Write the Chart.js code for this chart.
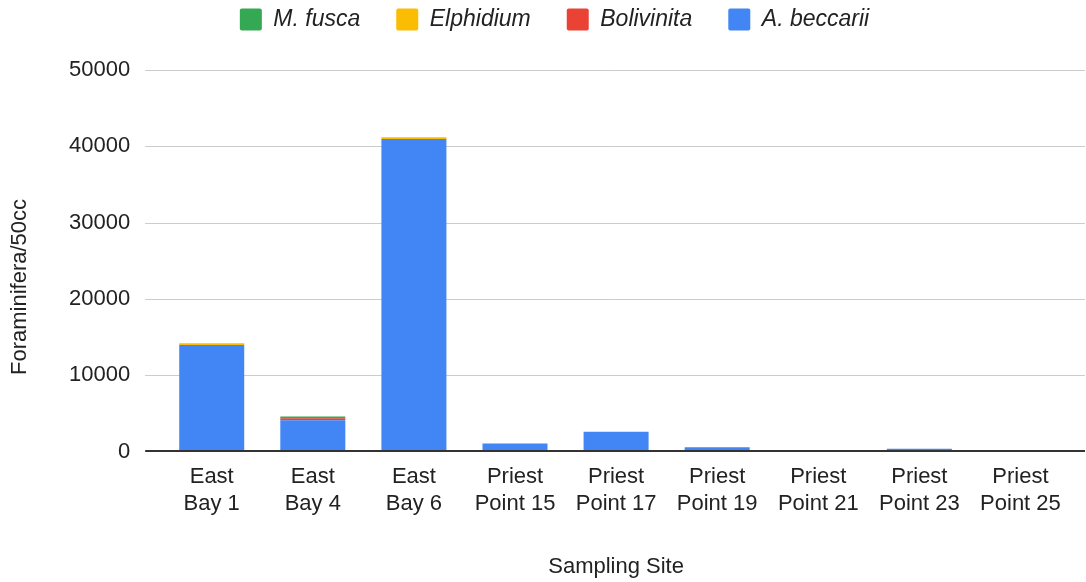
<!DOCTYPE html>
<html>
<head>
<meta charset="utf-8">
<script src="https://cdn.jsdelivr.net/npm/chart.js@4/dist/chart.umd.min.js"></script>
<style>
  html, body { margin: 0; padding: 0; background: #fff; }
  #wrap { width: 1086px; height: 582px; }
</style>
</head>
<body>
<div id="wrap"><canvas id="foramChart"></canvas></div>
<script>
// Sampling sites (two-line tick labels)
const sites = [
    ['East', 'Bay 1'], ['East', 'Bay 4'], ['East', 'Bay 6'],
    ['Priest', 'Point 15'], ['Priest', 'Point 17'], ['Priest', 'Point 19'],
    ['Priest', 'Point 21'], ['Priest', 'Point 23'], ['Priest', 'Point 25']
];

// Counts per 50cc, stacked bottom to top
const aBeccarii  = [13950, 4100, 40950, 1050, 2580, 560, 0, 350, 0];
const bolivinita = [0, 250, 0, 0, 0, 0, 0, 0, 0];
const elphidium  = [250, 0, 250, 0, 0, 0, 0, 0, 0];
const mFusca     = [0, 250, 0, 0, 0, 0, 0, 0, 0];

const yTicks = [0, 10000, 20000, 30000, 40000, 50000];
const yTitle = 'Foraminifera/50cc';

const font = '"Liberation Sans", Arial, sans-serif';
const textColor = '#222';

// gridlines + baseline run a bit past the bar area on both sides
const wideGrid = {
    id: 'wideGrid',
    beforeDatasetsDraw(chart) {
        const { ctx, chartArea, scales } = chart;
        const x0 = chartArea.left - 16;
        const x1 = chartArea.right + 14;
        ctx.save();
        ctx.lineWidth = 1;
        ctx.strokeStyle = '#cccccc';
        yTicks.forEach((v) => {
            if (v === 0) return;
            const y = Math.round(scales.y.getPixelForValue(v)) + 0.5;
            ctx.beginPath();
            ctx.moveTo(x0, y);
            ctx.lineTo(x1, y);
            ctx.stroke();
        });
        ctx.restore();
    },
    afterDatasetsDraw(chart) {
        const { ctx, chartArea, scales } = chart;
        const y = Math.round(scales.y.getPixelForValue(0));
        ctx.save();
        ctx.lineWidth = 2;
        ctx.strokeStyle = '#333';
        ctx.beginPath();
        ctx.moveTo(chartArea.left - 16, y);
        ctx.lineTo(chartArea.right + 14, y);
        ctx.stroke();
        ctx.restore();
    }
};

// y title centred on the whole canvas height, not just the plot area
const sideTitle = {
    id: 'sideTitle',
    afterDraw(chart) {
        const { ctx, height } = chart;
        ctx.save();
        ctx.translate(20, height / 2 - 4);
        ctx.rotate(-Math.PI / 2);
        ctx.font = '22px ' + font;
        ctx.fillStyle = textColor;
        ctx.textAlign = 'center';
        ctx.textBaseline = 'middle';
        ctx.fillText(yTitle, 0, 0);
        ctx.restore();
    }
};

// legend keeps its wide item spacing but reserves a fixed height
const legendHeight = {
    id: 'legendHeight',
    beforeInit(chart) {
        const fit = chart.legend.fit;
        chart.legend.fit = function () {
            fit.call(this);
            this.height = 98;
        };
    }
};

document.addEventListener('DOMContentLoaded', function () {
    const ctx = document.getElementById('foramChart');

    new Chart(ctx, {
        type: 'bar',
        data: {
            labels: sites,
            datasets: [
                { label: 'A. beccarii', data: aBeccarii, backgroundColor: '#4285f4' },
                { label: 'Bolivinita', data: bolivinita, backgroundColor: '#ea4335' },
                { label: 'Elphidium', data: elphidium, backgroundColor: '#fbbc04' },
                { label: 'M. fusca', data: mFusca, backgroundColor: '#34a853' }
            ]
        },
        options: {
            responsive: true,
            maintainAspectRatio: false,
            animation: false,
            layout: { padding: { left: 38, right: 15, top: -28, bottom: 2 } },
            datasets: {
                bar: { categoryPercentage: 1, barPercentage: 0.643 }
            },
            plugins: {
                legend: {
                    reverse: true,
                    labels: {
                        boxWidth: 22,
                        boxHeight: 22,
                        useBorderRadius: true,
                        borderRadius: 2,
                        padding: 36,
                        color: textColor,
                        font: { family: font, size: 23, style: 'italic' }
                    }
                },
                tooltip: { enabled: false }
            },
            scales: {
                x: {
                    stacked: true,
                    grid: { display: false, drawTicks: false },
                    border: { display: false },
                    ticks: {
                        color: textColor,
                        padding: 12,
                        maxRotation: 0,
                        autoSkip: false,
                        font: { family: font, size: 22, lineHeight: 1.23 }
                    },
                    title: {
                        display: true,
                        text: 'Sampling Site',
                        color: textColor,
                        padding: { top: 24, bottom: 0 },
                        font: { family: font, size: 22 }
                    }
                },
                y: {
                    stacked: true,
                    min: 0,
                    max: 50000,
                    afterBuildTicks: function (axis) {
                        axis.ticks = yTicks.map((v) => ({ value: v }));
                    },
                    grid: { display: false, drawTicks: false },
                    border: { display: false },
                    ticks: {
                        color: textColor,
                        padding: 31,
                        font: { family: font, size: 22 },
                        callback: (v) => String(v)
                    }
                }
            }
        },
        plugins: [wideGrid, sideTitle, legendHeight]
    });
});
</script>
</body>
</html>
